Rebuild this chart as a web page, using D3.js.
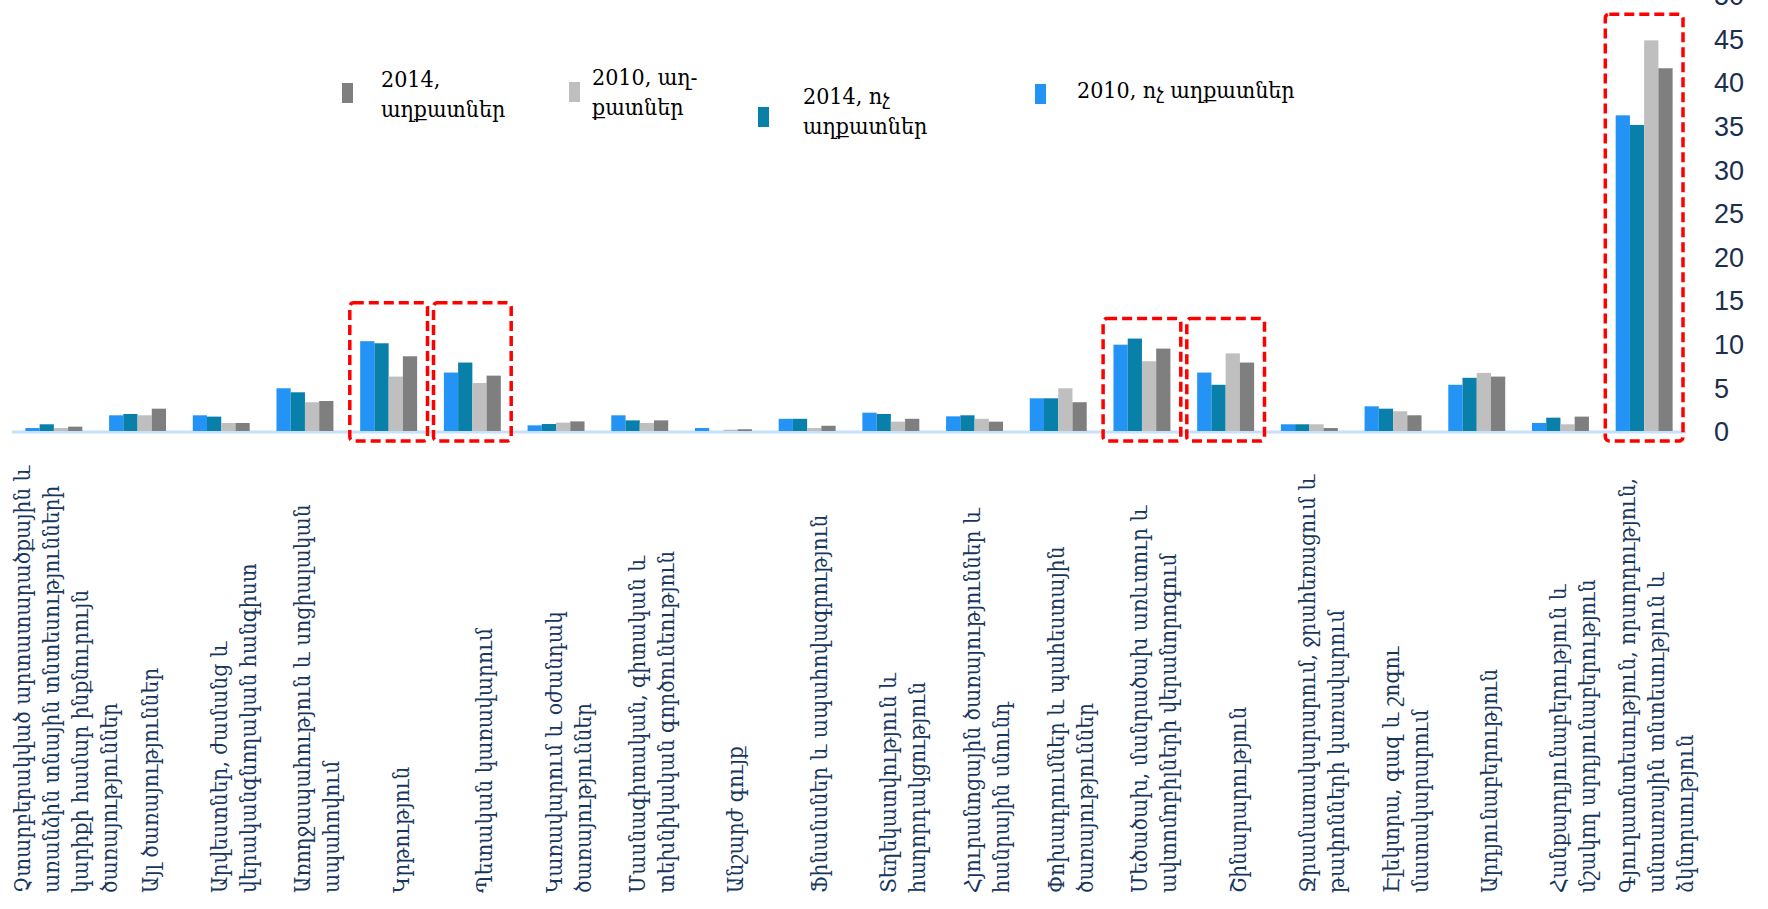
<!DOCTYPE html>
<html><head><meta charset="utf-8">
<script src="https://cdn.jsdelivr.net/npm/d3@7"></script>
<style>
html,body{margin:0;padding:0;background:#fff;}
svg{display:block;}
</style></head>
<body>
<svg id="chart" width="1768" height="909"></svg>
<script>
// ---------- DATA ----------
const categories = [
  "Չտարբերակված արտատարածքային և|առանձին տնային տնտեսությունների|կարիքի համար ինքնուրույն|ծառայություններ",
  "Այլ ծառայություններ",
  "Արվեստներ, ժամանց և|վերականգնողական հանգիստ",
  "Առողջապահություն և սոցիալական|ապահովում",
  "Կրթություն",
  "Պետական կառավարում",
  "Կառավարում և օժանդակ|ծառայություններ",
  "Մասնագիտական, գիտական և|տեխնիկական գործունեություն",
  "Անշարժ գույք",
  "Ֆինանսներ և ապահովագրություն",
  "Տեղեկատվություն և|հաղորդակցություն",
  "Հյուրանոցային ծառայություններ և|հանրային սնունդ",
  "Փոխադրումներ և պահեստային|ծառայություններ",
  "Մեծածախ, մանրածախ առևտուր և|ավտոմոբիլների վերանորոգում",
  "Շինարարություն",
  "Ջրամատակարարում, ջրահեռացում և|թափոնների կառավարում",
  "Էլեկտրա, գազ  և շոգու|մատակարարում",
  "Արդյունաբերություն",
  "Հանքարդյունաբերություն և|մշակող արդյունաբերություն",
  "Գյուղատնտեսություն, որսորդություն,|անտառային տնտեսություն և|ձկնորսություն"
];

const seriesKeys = ["2010, ոչ աղքատներ", "2014, ոչ աղքատներ", "2010, աղքատներ", "2014, աղքատներ"];

const nonPoor2010 = [0.34, 1.8, 1.8, 4.9, 10.3, 6.7, 0.65, 1.8, 0.34, 1.4, 2.1, 1.68, 3.75, 9.9, 6.7, 0.77, 2.83, 5.3, 0.92, 36.2];
const nonPoor2014 = [0.77, 1.95, 1.65, 4.44, 10.06, 7.85, 0.8, 1.22, 0, 1.4, 1.95, 1.8, 3.75, 10.6, 5.3, 0.77, 2.56, 6.1, 1.53, 35.1];
const poor2010    = [0.34, 1.8, 0.92, 3.3, 6.24, 5.5, 0.96, 0.92, 0.15, 0.34, 1.07, 1.4, 4.9, 8.0, 8.9, 0.77, 2.26, 6.66, 0.77, 44.8];
const poor2014    = [0.5, 2.56, 0.92, 3.44, 8.57, 6.35, 1.1, 1.22, 0.2, 0.6, 1.4, 1.07, 3.3, 9.45, 7.85, 0.34, 1.8, 6.24, 1.65, 41.6];

const yTicks = [0, 5, 10, 15, 20, 25, 30, 35, 40, 45, 50];

// legend (drawn order, left to right)
const legendKeys = ["2014, աղքատներ", "2010, աղքատներ", "2014, ոչ աղքատներ", "2010, ոչ աղքատներ"];
const legendLabels = ["2014,|աղքատներ", "2010, աղ-|քատներ", "2014, ոչ|աղքատներ", "2010, ոչ աղքատներ"];

// highlighted categories (red dashed frames) and frame top value
const highlightCats = [4, 5, 13, 14, 19];
const highlightTop = [14.7, 14.7, 12.9, 12.9, 47.8];

// ---------- STYLE ----------
const colors = {
  "2010, ոչ աղքատներ": "#2394f6",
  "2014, ոչ աղքատներ": "#0880a9",
  "2010, աղքատներ": "#bfbfbf",
  "2014, աղքատներ": "#7f7f7f"
};
const seriesValues = [nonPoor2010, nonPoor2014, poor2010, poor2014];

const svg = d3.select("#chart");
const plotLeft = 12, plotRight = 1686, baseY = 431, topY = -5;

const x0 = d3.scaleBand().domain(categories).range([plotLeft, plotRight]).padding(0);
const x1 = d3.scaleBand().domain(seriesKeys).range([0, x0.bandwidth()]).paddingInner(0).paddingOuter(0.94);
const y = d3.scaleLinear().domain([0, 50]).range([baseY, topY]);

// baseline
svg.append("line")
  .attr("x1", plotLeft).attr("x2", plotRight)
  .attr("y1", y(0) + 1).attr("y2", y(0) + 1)
  .attr("stroke", "#c6e0f9").attr("stroke-width", 3);

// bars
const rows = categories.map((c, i) => ({cat: c, vals: seriesKeys.map((k, s) => ({key: k, v: seriesValues[s][i]}))}));
const g = svg.append("g");
const grp = g.selectAll("g.grp").data(rows).join("g")
  .attr("class", "grp")
  .attr("transform", d => `translate(${x0(d.cat)},0)`);
grp.selectAll("rect").data(d => d.vals).join("rect")
  .attr("x", d => x1(d.key))
  .attr("width", x1.bandwidth())
  .attr("y", d => y(d.v))
  .attr("height", d => y(0) - y(d.v))
  .attr("fill", d => colors[d.key]);

// highlight frames
highlightCats.forEach((ci, k) => {
  const cx = x0(categories[ci]);
  svg.append("rect")
    .attr("x", cx + 3)
    .attr("width", x0.bandwidth() - 6)
    .attr("y", y(highlightTop[k]))
    .attr("height", y(0) + 10 - y(highlightTop[k]))
    .attr("rx", 4).attr("ry", 4)
    .attr("fill", "none")
    .attr("stroke", "#ff0000")
    .attr("stroke-width", 3.5)
    .attr("stroke-dasharray", "10,5");
});

// y axis (right)
const yAxis = d3.axisRight(y).tickValues(yTicks).tickSize(0).tickPadding(0);
const ax = svg.append("g").attr("transform", "translate(1714,0)").call(yAxis);
ax.select(".domain").remove();
ax.selectAll("text")
  .attr("x", 0)
  .attr("dy", "0.36em")
  .attr("font-family", "'Liberation Sans', Arial, sans-serif")
  .attr("font-size", 27)
  .attr("fill", "#1b2f4f")
  .attr("text-anchor", "start");

// category labels (rotated)
const labelY = 893, lineGap = 29, labelShift = 14;
categories.forEach(c => {
  const lines = c.split("|");
  const cx = x0(c) + x0.bandwidth() / 2 + labelShift;
  lines.forEach((ln, j) => {
    const lx = cx + (j - (lines.length - 1) / 2) * lineGap;
    svg.append("text")
      .attr("transform", `translate(${lx},${labelY}) rotate(-90)`)
      .attr("dominant-baseline", "middle")
      .attr("text-anchor", "start")
      .attr("font-family", "'DejaVu Serif', serif")
      .attr("font-stretch", "condensed")
      .attr("font-size", 22.5)
      .attr("fill", "#17365d")
      .text(ln);
  });
});

// legend
const legendPos = [
  {mx: 342, my: 83, tx: 381, ty: 81},
  {mx: 569, my: 82, tx: 592, ty: 79},
  {mx: 758, my: 107, tx: 803, ty: 98},
  {mx: 1035, my: 84, tx: 1077, ty: 92}
];
legendKeys.forEach((k, i) => {
  const p = legendPos[i];
  svg.append("rect").attr("x", p.mx).attr("y", p.my).attr("width", 11).attr("height", 20).attr("fill", colors[k]);
  legendLabels[i].split("|").forEach((ln, j) => {
    svg.append("text")
      .attr("x", p.tx).attr("y", p.ty + j * 30)
      .attr("dominant-baseline", "middle")
      .attr("font-family", "'DejaVu Serif', serif")
      .attr("font-stretch", "condensed")
      .attr("font-size", 23)
      .attr("fill", "#000")
      .text(ln);
  });
});
</script>
</body></html>
